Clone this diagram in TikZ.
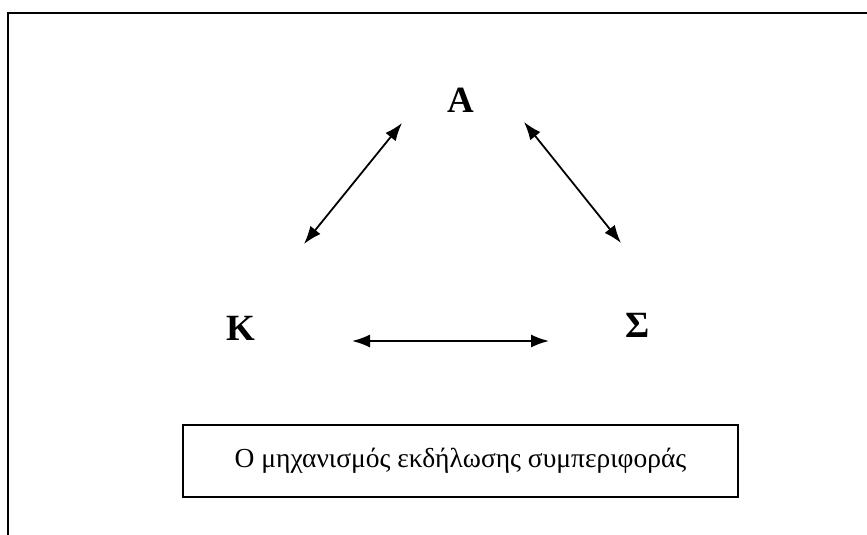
\documentclass[tikz,border=0pt]{standalone}
\usepackage{fontspec}
\setmainfont{Liberation Serif}
\usepackage{tikz}
\usetikzlibrary{arrows.meta,positioning}

\begin{document}
\begin{tikzpicture}[
    x=1pt, y=-1pt,
    letter/.style={font=\fontsize{37}{40}\selectfont\bfseries, inner sep=0pt},
    caption/.style={rectangle, draw=black, line width=1.6pt, minimum width=555pt, minimum height=72pt, align=center, font=\fontsize{27.5}{32}\selectfont},
    arrow/.style={{Latex[length=18pt,width=13pt]}-{Latex[length=18pt,width=13pt]}, line width=1.8pt}
]
\useasboundingbox (0,0) rectangle (867,535);
% outer frame (cut off at right and bottom)
\coordinate (frameTL) at (8,13);
\coordinate (frameTR) at (867,13);
\coordinate (frameBL) at (8,535);
\draw[line width=2.6pt] (frameBL) -- (frameTL) -- (frameTR);

\node[letter] (A) at (461,100) {A};
\node[letter] (K) at (241,328) {K};
\node[letter] (S) at (638,325) {Σ};
\node[caption] (mech) at (460.5,461) {Ο μηχανισμός εκδήλωσης συμπεριφοράς};

% arrow ends
\coordinate (ak1) at (402,123);
\coordinate (ak2) at (304,244);
\coordinate (as1) at (524,122);
\coordinate (as2) at (621,243);
\coordinate (ks1) at (352,341);
\coordinate (ks2) at (549,341);

\draw[arrow] (ak1) -- (ak2);
\draw[arrow] (as1) -- (as2);
\draw[arrow] (ks1) -- (ks2);
\end{tikzpicture}
\end{document}
